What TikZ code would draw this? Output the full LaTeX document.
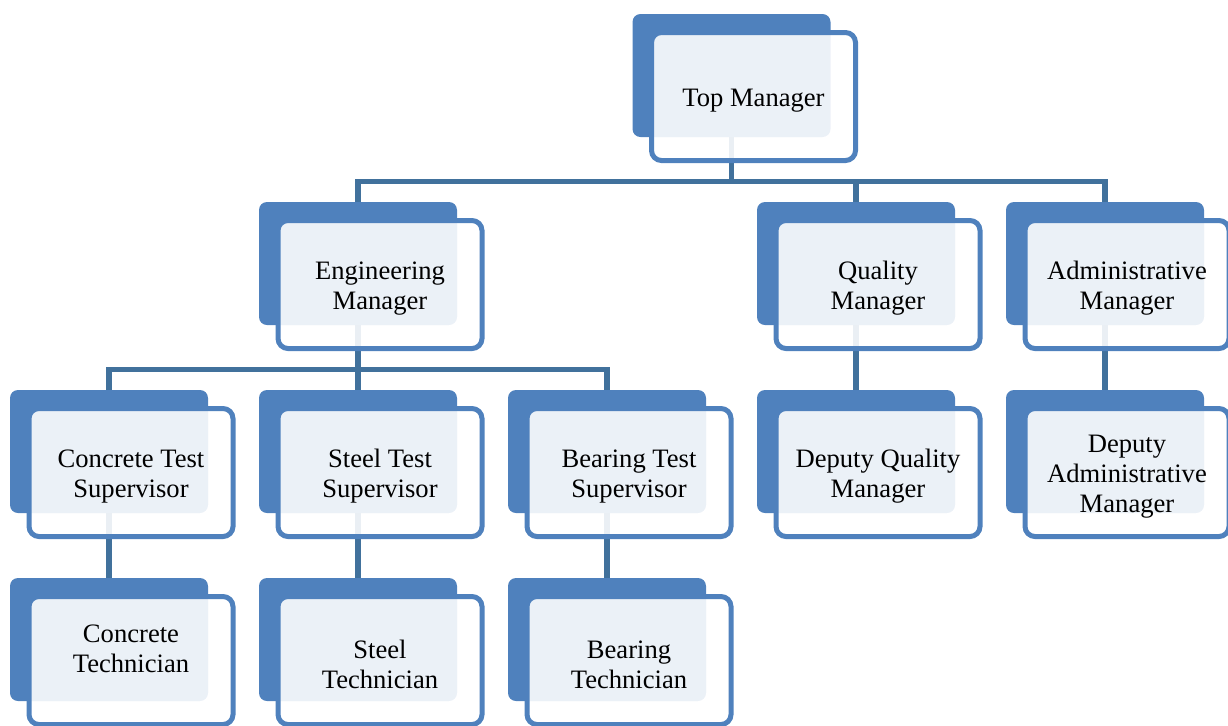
\documentclass[tikz,border=0pt]{standalone}
\usepackage{fontspec}
\setmainfont{Liberation Serif}
\usetikzlibrary{positioning,calc,backgrounds}

\definecolor{boxblue}{HTML}{4F81BD}
\definecolor{linkblue}{HTML}{41719C}

% taller first line, pushes the titles a little down
\newcommand{\headstrut}{\rule{0pt}{13pt}}

\tikzset{
  backbox/.style={rectangle,rounded corners=4pt,fill=boxblue,
    minimum width=99pt,minimum height=61.5pt,inner sep=0pt,outer sep=0pt},
  frontbox/.style={rectangle,rounded corners=5pt,draw=boxblue,line width=2.5pt,
    fill=white,fill opacity=0.89,text opacity=1,
    minimum width=102pt,minimum height=64pt,inner sep=0pt,outer sep=0pt,
    align=center,font=\fontsize{13.3pt}{15pt}\selectfont},
  % text sitting a bit higher in its box
  raised/.style={execute at end node={\rule[-12pt]{0pt}{0pt}}},
  link/.style={draw=linkblue,line width=2.6pt}
}

\begin{document}
\begin{tikzpicture}[x=0.5pt,y=-0.5pt,node distance=32.5pt and 25.5pt]
  \useasboundingbox (0,0) rectangle (1228,725);

  % Supervisors and deputies
  \node [backbox] (conc) at (109,451.5) {};
  \node [backbox,right=of conc] (steel) {};
  \node [backbox,right=of steel] (bear) {};
  \node [backbox,right=of bear] (dqual) {};
  \node [backbox,right=of dqual] (dadmin) {};

  % Managers
  \node [backbox,above=of steel] (eng) {};
  \node [backbox,above=of dqual] (qual) {};
  \node [backbox,above=of dadmin] (admin) {};

  % Top
  \coordinate (midtop) at ($(eng.north)!0.5!(admin.north)$);
  \node [backbox,above=of midtop] (top) {};

  % Technicians
  \node [backbox,below=of conc] (conct) {};
  \node [backbox,below=of steel] (steelt) {};
  \node [backbox,below=of bear] (beart) {};

  % Front boxes with the titles
  \node [frontbox] (top-f) at ([shift={(11pt,-10.5pt)}]top.center) {\headstrut Top Manager};
  \node [frontbox] (eng-f) at ([shift={(11pt,-10.5pt)}]eng.center) {\headstrut Engineering\\Manager};
  \node [frontbox] (qual-f) at ([shift={(11pt,-10.5pt)}]qual.center) {\headstrut Quality\\Manager};
  \node [frontbox] (admin-f) at ([shift={(11pt,-10.5pt)}]admin.center) {\headstrut Administrative\\Manager};
  \node [frontbox] (conc-f) at ([shift={(11pt,-10.5pt)}]conc.center) {\headstrut Concrete Test\\Supervisor};
  \node [frontbox] (steel-f) at ([shift={(11pt,-10.5pt)}]steel.center) {\headstrut Steel Test\\Supervisor};
  \node [frontbox] (bear-f) at ([shift={(11pt,-10.5pt)}]bear.center) {\headstrut Bearing Test\\Supervisor};
  \node [frontbox] (dqual-f) at ([shift={(11pt,-10.5pt)}]dqual.center) {\headstrut Deputy Quality\\Manager};
  \node [frontbox] (dadmin-f) at ([shift={(11pt,-10.5pt)}]dadmin.center) {\headstrut Deputy\\Administrative\\Manager};
  \node [frontbox,raised] (conct-f) at ([shift={(11pt,-10.5pt)}]conct.center) {Concrete\\Technician};
  \node [frontbox] (steelt-f) at ([shift={(11pt,-10.5pt)}]steelt.center) {\headstrut Steel\\Technician};
  \node [frontbox] (beart-f) at ([shift={(11pt,-10.5pt)}]beart.center) {\headstrut Bearing\\Technician};

  \begin{pgfonlayer}{background}
    % Top to managers
    \coordinate (bar1) at ($(top-f.south)!0.5!(eng.north)$);
    \draw [link] (top.south) |- (bar1 -| eng.north) -- (eng.north);
    \draw [link] (top.south) |- (bar1 -| qual.north) -- (qual.north);
    \draw [link] (top.south) |- (bar1 -| admin.north) -- (admin.north);

    % Engineering to supervisors
    \coordinate (bar2) at ($(eng-f.south)!0.5!(steel.north)$);
    \draw [link] (eng.south) |- (bar2 -| conc.north) -- (conc.north);
    \draw [link] (eng.south) -- (steel.north);
    \draw [link] (eng.south) |- (bar2 -| bear.north) -- (bear.north);

    % Deputies
    \draw [link] (qual.south) -- (dqual.north);
    \draw [link] (admin.south) -- (dadmin.north);

    % Supervisors to technicians
    \draw [link] (conc.south) -- (conct.north);
    \draw [link] (steel.south) -- (steelt.north);
    \draw [link] (bear.south) -- (beart.north);
  \end{pgfonlayer}

\end{tikzpicture}
\end{document}
